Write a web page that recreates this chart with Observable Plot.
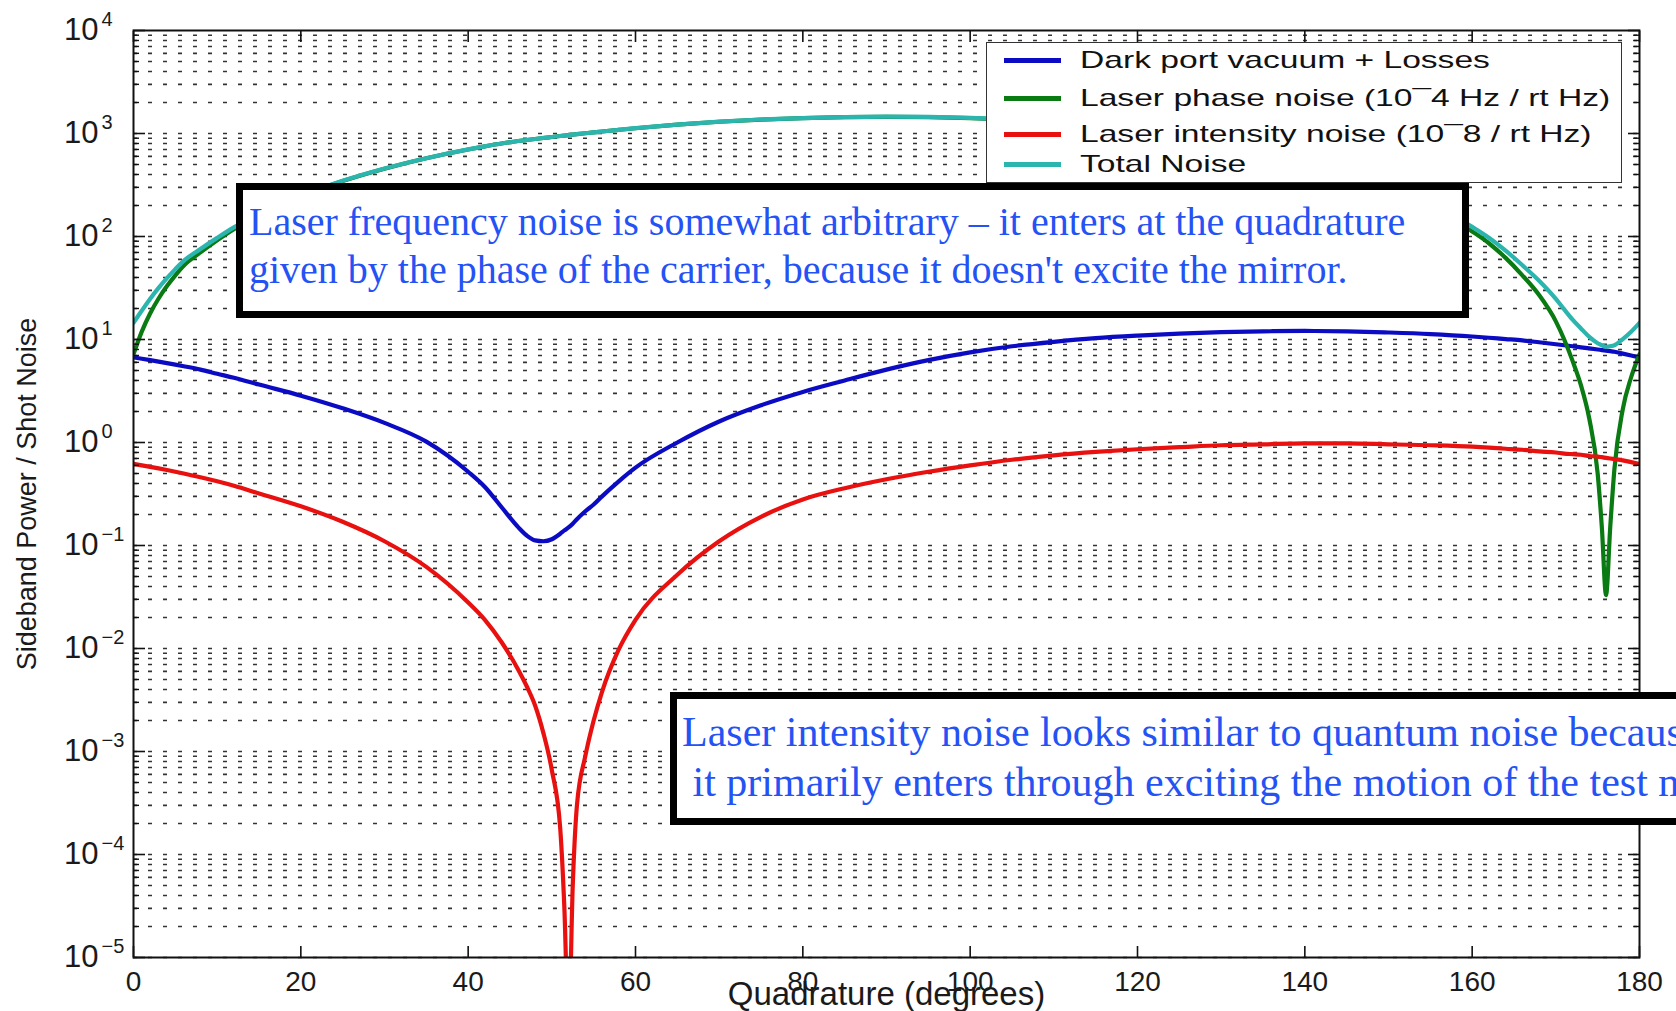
<!DOCTYPE html>
<html>
<head>
<meta charset="utf-8">
<script src="https://cdn.jsdelivr.net/npm/d3@7"></script>
<script src="https://cdn.jsdelivr.net/npm/@observablehq/plot@0.6"></script>
<style>
  html, body { margin: 0; padding: 0; background: #fff; overflow: hidden; }
  #wrap { position: relative; width: 1676px; height: 1011px; overflow: hidden; }
  #chart svg { display: block; }
  .legend { position: absolute; left: 986px; top: 42px; width: 636px; height: 141px; box-sizing: border-box;
            border: 1.5px solid #333; background: #fff; font-family: 'Liberation Sans', Arial, sans-serif; color: #111; }
  .legend .row { position: absolute; left: 0; height: 0; }
  .legend .swatch { position: absolute; left: 17px; width: 57px; height: 5px; top: -2.5px; }
  .legend .lab { position: absolute; left: 93px; top: -15px; font-size: 24px; line-height: 30px; white-space: nowrap;
                 transform: scaleX(1.4); transform-origin: 0 50%; }
  .note { position: absolute; box-sizing: border-box; border: 7px solid #000; background: #fff;
          font-family: 'Liberation Serif', 'Times New Roman', serif; color: #2452f4; white-space: pre; }
  .note.n1 { font-size: 40px; line-height: 48px; padding: 8px 0 0 6px; }
  .note.n2 { font-size: 42px; line-height: 50px; padding: 8px 0 0 5px; }
</style>
</head>
<body>
<div id="wrap">
  <div id="chart"></div>
</div>
<script>
// Quadrature angle (degrees) at which each curve is sampled
const angles = [0,1,2,3,4,5,6,8,10,12,15,20,25,30,35,40,42,44,46,47,48,49,50,51,51.5,52,52.5,53,54,55,56,58,60,
  65,70,75,80,85,90,95,100,105,110,115,120,125,130,135,140,145,150,155,160,162,164,166,168,170,
  171,172,173,174,175,175.5,176,176.5,177,178,179,180];

// Sideband power relative to shot noise
const darkPortVacuum = [6.7,6.5,6.3,6.1,5.9,5.7,5.5,5.1,4.65,4.25,3.65,2.85,2.15,1.55,1.02,0.52,0.37,0.235,0.15,0.125,0.112,0.11,0.115,0.13,0.14,0.15,0.163,0.18,0.215,0.25,0.3,0.42,0.57,
  1.0,1.6,2.3,3.1,4.0,5.1,6.3,7.5,8.6,9.5,10.3,10.9,11.4,11.8,12.0,12.1,12.0,11.7,11.3,10.7,10.4,10.1,9.8,9.4,9.0,
  8.8,8.6,8.4,8.2,8.0,7.9,7.8,7.7,7.6,7.3,7.0,6.7];

const laserPhaseNoise = [7.2,12,18,25,33,42,52,70,92,118,160,245,345,455,575,700,750,800,845,865,885,905,925,945,955,965,975,985,1005,1025,1045,1085,1125,
  1220,1300,1365,1410,1440,1450,1440,1410,1360,1290,1200,1090,965,830,690,555,425,305,198,112,86,62,42,27,15,
  10,6.2,3.6,1.7,0.5,0.15,0.033,0.15,0.55,2.1,4.3,7.2];

const laserIntensityNoise = [0.62,0.6,0.58,0.56,0.54,0.52,0.5,0.46,0.42,0.38,0.32,0.24,0.17,0.11,0.062,0.028,0.019,0.0115,0.0062,0.0043,0.0028,0.0015,0.00066,0.00018,0.00003,0.000002,0.00005,0.0003,0.0009,0.002,0.0038,0.0098,0.019,
  0.052,0.11,0.19,0.28,0.36,0.44,0.52,0.6,0.68,0.75,0.81,0.86,0.9,0.94,0.96,0.98,0.98,0.96,0.94,0.91,0.89,0.87,0.85,0.82,0.8,
  0.78,0.77,0.76,0.74,0.73,0.72,0.71,0.7,0.69,0.67,0.645,0.62];

const totalNoise = [14.5,19.1,24.9,31.7,39.4,48.2,58,75.6,97,122.6,164,248,347,457,576,700.6,750.4,800.2,845.2,865.1,885.1,905.1,925.1,945.1,955.1,965.2,975.2,985.2,1005.2,1025.3,1045.3,1085.4,1125.6,
  1221,1302,1368,1413,1444,1456,1447,1418,1369,1300,1211,1102,977,843,703,568,438,318,210,124,97.3,73,52.6,37.2,24.8,
  19.6,15.6,12.8,10.6,9.2,8.8,8.5,8.6,8.8,10.1,11.9,14.5];

const seriesNames = ["Dark port vacuum + Losses", "Laser phase noise (10\u00AF4 Hz / rt Hz)", "Laser intensity noise (10\u00AF8 / rt Hz)", "Total Noise"];
const seriesColors = ["#0b0bc4", "#0a7a12", "#e8110f", "#2bb5ae"];
const seriesValues = [darkPortVacuum, laserPhaseNoise, laserIntensityNoise, totalNoise];

const xTickValues = [0, 20, 40, 60, 80, 100, 120, 140, 160, 180];
const decadeExponents = [-5, -4, -3, -2, -1, 0, 1, 2, 3, 4];

const notes = [
  {cls: "n1", text: "Laser frequency noise is somewhat arbitrary \u2013 it enters at the quadrature\ngiven by the phase of the carrier, because it doesn't excite the mirror.",
   left: 236, top: 183, width: 1233, height: 135},
  {cls: "n2", text: "Laser intensity noise looks similar to quantum noise because\n it primarily enters through exciting the motion of the test mass.",
   left: 670, top: 692, width: 1200, height: 133}
];

// Long table: one row per sample per curve, in legend order
const rows = seriesNames.flatMap((name, j) => angles.map((a, i) => ({angle: a, series: name, value: seriesValues[j][i]})));

const decades = decadeExponents.map(e => Math.pow(10, e));
const minors = decadeExponents.slice(0, -1).flatMap(e => d3.range(2, 10).map(k => k * Math.pow(10, e)));
const gridLines = decadeExponents.slice(0, -1).flatMap(e => d3.range(1, 10).map(k => k * Math.pow(10, e)));
const expLabel = e => (e < 0 ? "\u2212" + (-e) : String(e));

const ink = "#1a1a1a";

const chart = Plot.plot({
  width: 1676,
  height: 1011,
  marginLeft: 133,
  marginRight: 37,
  marginTop: 30,
  marginBottom: 54,
  style: {fontFamily: "'Liberation Sans', Arial, sans-serif", fontSize: "28px", color: ink, background: "#fff"},
  x: {domain: [0, 180]},
  y: {type: "log", domain: [1e-5, 1e4]},
  color: {domain: seriesNames, range: seriesColors},
  marks: [
    // dotted log grid
    Plot.ruleY(gridLines, {stroke: "#000", strokeWidth: 1.6, strokeOpacity: 0.8, strokeDasharray: "4,11"}),
    // curves
    Plot.line(rows, {x: "angle", y: "value", z: "series", stroke: "series", strokeWidth: 4.2, curve: "monotone-x", clip: true}),
    Plot.frame({stroke: "#111", strokeWidth: 2}),
    // inward ticks on all four sides
    Plot.axisX({anchor: "bottom", ticks: xTickValues, tickSize: 11, dy: -11, tickFormat: () => "", label: null, stroke: "#111", strokeWidth: 1.6}),
    Plot.axisX({anchor: "top", ticks: xTickValues, tickSize: 11, dy: 11, tickFormat: () => "", label: null, stroke: "#111", strokeWidth: 1.6}),
    Plot.axisY({anchor: "left", ticks: decades, tickSize: 12, dx: 12, tickFormat: () => "", label: null, stroke: "#111", strokeWidth: 1.6}),
    Plot.axisY({anchor: "right", ticks: decades, tickSize: 12, dx: -12, tickFormat: () => "", label: null, stroke: "#111", strokeWidth: 1.6}),
    Plot.axisY({anchor: "left", ticks: minors, tickSize: 6, dx: 6, tickFormat: () => "", label: null, stroke: "#111", strokeWidth: 1.4}),
    Plot.axisY({anchor: "right", ticks: minors, tickSize: 6, dx: -6, tickFormat: () => "", label: null, stroke: "#111", strokeWidth: 1.4}),
    // x tick labels
    Plot.axisX({anchor: "bottom", ticks: xTickValues, tickSize: 0, tickPadding: 14, fontSize: 28, label: null, fill: ink}),
    // y tick labels as 10 with a raised exponent
    Plot.text(decadeExponents, {y: e => Math.pow(10, e), frameAnchor: "left", text: () => "10", textAnchor: "end", lineAnchor: "middle", dx: -35, fontSize: 31, fill: ink}),
    Plot.text(decadeExponents, {y: e => Math.pow(10, e), frameAnchor: "left", text: expLabel, textAnchor: "start", lineAnchor: "middle", dx: -32, dy: -11, fontSize: 20, fill: ink}),
    // axis titles
    Plot.text(["Sideband Power / Shot Noise"], {frameAnchor: "left", textAnchor: "middle", lineAnchor: "middle", rotate: -90, dx: -106, fontSize: 27, fill: ink}),
    Plot.text(["Quadrature (degrees)"], {frameAnchor: "bottom", textAnchor: "middle", lineAnchor: "middle", dy: 37, fontSize: 33, fill: ink})
  ]
});
document.getElementById("chart").appendChild(chart);

// legend box
const wrap = document.getElementById("wrap");
const legend = document.createElement("div");
legend.className = "legend";
const rowCenters = [17, 55, 91, 121];
seriesNames.forEach((name, i) => {
  const row = document.createElement("div");
  row.className = "row";
  row.style.top = rowCenters[i] + "px";
  const sw = document.createElement("div");
  sw.className = "swatch";
  sw.style.background = seriesColors[i];
  const lab = document.createElement("div");
  lab.className = "lab";
  lab.textContent = name;
  row.appendChild(sw);
  row.appendChild(lab);
  legend.appendChild(row);
});
wrap.appendChild(legend);

// annotation boxes
notes.forEach(n => {
  const d = document.createElement("div");
  d.className = "note " + n.cls;
  d.style.left = n.left + "px";
  d.style.top = n.top + "px";
  d.style.width = n.width + "px";
  d.style.height = n.height + "px";
  d.textContent = n.text;
  wrap.appendChild(d);
});
</script>
</body>
</html>
